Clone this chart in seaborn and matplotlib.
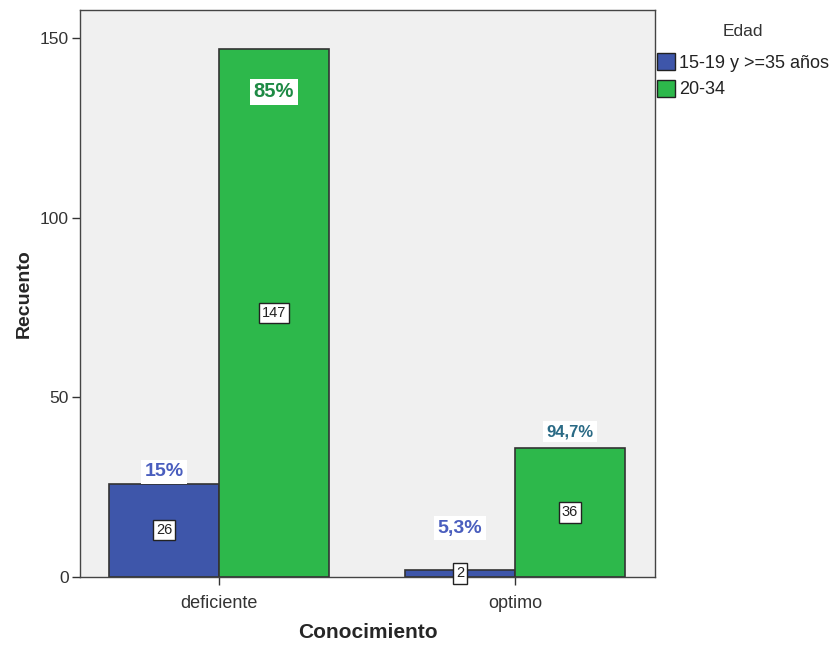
import matplotlib
matplotlib.use("Agg")
import matplotlib.pyplot as plt
import seaborn as sns
import pandas as pd

categories = ["deficiente", "optimo"]
groups = ["15-19 y >=35 años", "20-34"]
counts_young_old = [26, 2]
counts_mid = [147, 36]
pct_young_old = ["15%", "5,3%"]
pct_mid = ["85%", "94,7%"]

df = pd.DataFrame({
    "Conocimiento": categories * 2,
    "Edad": [groups[0]] * 2 + [groups[1]] * 2,
    "Recuento": counts_young_old + counts_mid,
})

sns.set_style("white")
plt.rcParams["font.family"] = ["Liberation Sans", "DejaVu Sans"]

palette = {groups[0]: "#3E56AA", groups[1]: "#2DB84B"}

fig = plt.figure(figsize=(8.35, 6.48), dpi=100)
ax = fig.add_axes([0.0958, 0.1096, 0.6886, 0.875])
ax.set_facecolor("#F0F0F0")

sns.barplot(data=df, x="Conocimiento", y="Recuento", hue="Edad",
            order=categories, hue_order=groups, palette=palette,
            width=0.743, edgecolor="#333333", linewidth=1.2,
            saturation=1, ax=ax, legend=True)

ax.set_xlim(-0.47, 1.473)
ax.set_ylim(0, 157.8)
ax.set_yticks([0, 50, 100, 150])
ax.tick_params(axis="both", bottom=True, left=True, direction="out", length=6,
               width=1, color="#333333", labelsize=12.5, labelcolor="#333333", pad=2)
ax.tick_params(axis="x", pad=7, labelsize=13)
for s in ax.spines.values():
    s.set_color("#444444")
    s.set_linewidth(1)

ax.set_xlabel("Conocimiento", fontsize=15, fontweight="bold", labelpad=8)
ax.set_ylabel("Recuento", fontsize=14, fontweight="bold", labelpad=5)

# bar centre positions come from the drawn patches
bars_a = ax.containers[0]
bars_b = ax.containers[1]

count_box = dict(boxstyle="square,pad=0.22", fc="white", ec="#222222", lw=1)
pct_box = dict(boxstyle="square,pad=0.18", fc="white", ec="none")

count_y = [13, 1]
for bar, c, yy in zip(bars_a, counts_young_old, count_y):
    cx = bar.get_x() + bar.get_width() / 2
    ax.text(cx, yy, str(c), ha="center", va="center", fontsize=10.5,
            color="#222222", bbox=count_box)
for bar, c in zip(bars_b, counts_mid):
    cx = bar.get_x() + bar.get_width() / 2
    ax.text(cx, c / 2, str(c), ha="center", va="center", fontsize=10.5,
            color="#222222", bbox=count_box)

# percentage labels
pct_a_y = [counts_young_old[0] + 3.3, counts_young_old[1] + 11.5]
for bar, p, yy in zip(bars_a, pct_young_old, pct_a_y):
    cx = bar.get_x() + bar.get_width() / 2
    ax.text(cx, yy, p, ha="center", va="center", fontsize=14,
            fontweight="bold", color="#4A5EBE", bbox=pct_box)

pct_b_y = [counts_mid[0] - 12, counts_mid[1] + 4.4]
pct_b_col = ["#1E8A45", "#2A6A85"]
pct_b_size = [14.5, 12]
for bar, p, yy, col, fs in zip(bars_b, pct_mid, pct_b_y, pct_b_col, pct_b_size):
    cx = bar.get_x() + bar.get_width() / 2
    ax.text(cx, yy, p, ha="center", va="center", fontsize=fs,
            fontweight="bold", color=col, bbox=pct_box)

leg = ax.legend(title="Edad", loc="upper left", bbox_to_anchor=(1.0, 0.978),
                frameon=False, fontsize=13, title_fontsize=12.5,
                handlelength=1.0, handleheight=1.05, handletextpad=0.25,
                labelspacing=0.45, borderaxespad=0.0, borderpad=0.1)
leg._legend_box.sep = 10
for h in leg.legend_handles:
    h.set_edgecolor("#222222")
    h.set_linewidth(1)
for t in leg.get_texts():
    t.set_color("#222222")
leg.get_title().set_color("#333333")

fig.savefig("out.png", dpi=100, facecolor="white")
